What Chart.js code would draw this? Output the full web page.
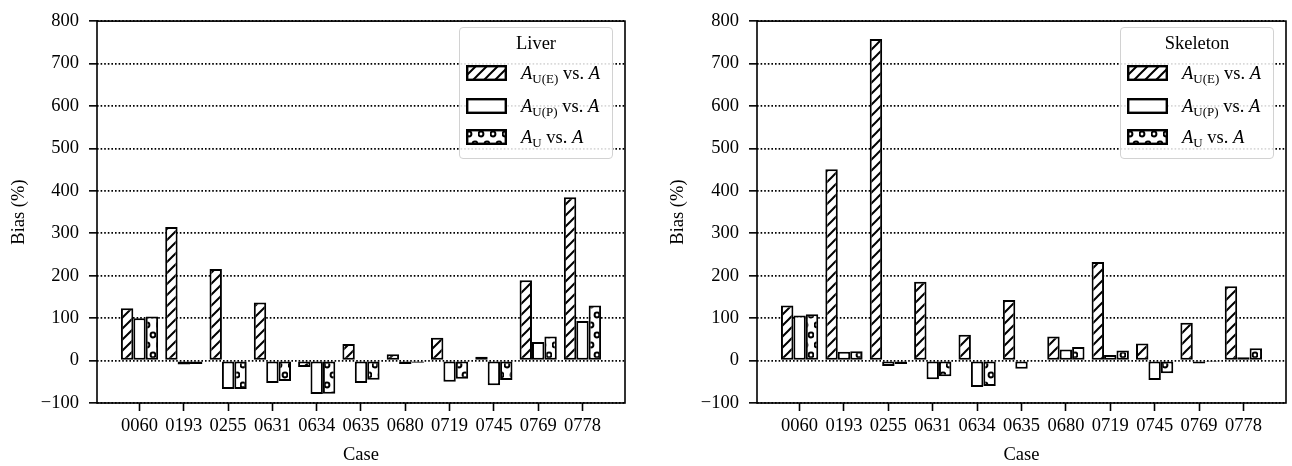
<!DOCTYPE html>
<html>
<head>
<meta charset="utf-8">
<script src="https://cdn.jsdelivr.net/npm/chart.js@4.4.1/dist/chart.umd.min.js"></script>
<style>
  body { margin: 0; background: #fff; }
  #wrap { position: relative; width: 1292px; height: 466px; overflow: hidden; }
  #wrap > canvas { position: absolute; top: 0; }
  .legend {
    position: absolute; top: 27px; height: 132px; box-sizing: border-box;
    border: 1px solid #d2d2d2; border-radius: 4px; background: rgba(255,255,255,0.85);
    font-family: "Liberation Serif", "Times New Roman", serif; font-size: 18.5px; color: #000;
  }
  .legend .ttl { position: absolute; left: 0; right: 0; top: 3px; line-height: 24px; text-align: center; }
  .legend .sw { position: absolute; left: 6px; width: 41px; height: 16px; }
  .legend .lab { position: absolute; left: 61px; line-height: 24px; white-space: nowrap; }
  .legend sub { font-size: 13px; vertical-align: -4px; line-height: 0; }
</style>
</head>
<body>
<div id="wrap">
  <canvas id="liver" width="646" height="466" style="left:0"></canvas>
  <canvas id="skeleton" width="646" height="466" style="left:646px"></canvas>

  <div class="legend" style="left:459px;width:154px">
    <div class="ttl">Liver</div>
    <canvas class="sw" data-p="hatch" width="41" height="16" style="top:37px"></canvas>
    <div class="lab" style="top:33px"><i>A</i><sub>U(E)</sub> vs. <i>A</i></div>
    <canvas class="sw" data-p="plain" width="41" height="16" style="top:70px"></canvas>
    <div class="lab" style="top:66px"><i>A</i><sub>U(P)</sub> vs. <i>A</i></div>
    <canvas class="sw" data-p="dots" width="41" height="16" style="top:101px"></canvas>
    <div class="lab" style="top:97px"><i>A</i><sub>U</sub> vs. <i>A</i></div>
  </div>

  <div class="legend" style="left:1120px;width:154px">
    <div class="ttl">Skeleton</div>
    <canvas class="sw" data-p="hatch" width="41" height="16" style="top:37px"></canvas>
    <div class="lab" style="top:33px"><i>A</i><sub>U(E)</sub> vs. <i>A</i></div>
    <canvas class="sw" data-p="plain" width="41" height="16" style="top:70px"></canvas>
    <div class="lab" style="top:66px"><i>A</i><sub>U(P)</sub> vs. <i>A</i></div>
    <canvas class="sw" data-p="dots" width="41" height="16" style="top:101px"></canvas>
    <div class="lab" style="top:97px"><i>A</i><sub>U</sub> vs. <i>A</i></div>
  </div>
</div>

<script>
const cases = ['0060', '0193', '0255', '0631', '0634', '0635', '0680', '0719', '0745', '0769', '0778'];

// bias (%) per case
const liverUE = [123, 315, 216, 137, -15, 39, 15, 54, 9, 189, 385];
const liverUP = [100, -9, -67, -53, -79, -53, -8, -50, -58, 44, 93];
const liverU  = [104, -8, -67, -48, -78, -45, -5, -43, -46, 57, 130];

const skelUE = [130, 451, 758, 186, 61, 143, 57, 232, 40, 89, 175];
const skelUP = [106, 21, -13, -44, -62, -19, 26, 13, -46, -7, 8];
const skelU  = [109, 22, -8, -37, -60, -2, 32, 24, -30, -1, 29];

const yMin = -100, yMax = 800, yStep = 100;

Chart.defaults.font.family = '"Liberation Serif", "Times New Roman", serif';
Chart.defaults.font.size = 18.5;
Chart.defaults.color = '#000';

function hatchTile() {
  const c = document.createElement('canvas');
  c.width = 11; c.height = 11;
  const g = c.getContext('2d');
  g.fillStyle = '#fff'; g.fillRect(0, 0, 11, 11);
  g.strokeStyle = '#000'; g.lineWidth = 2;
  g.beginPath();
  g.moveTo(0, 11); g.lineTo(11, 0);
  g.moveTo(-2, 2); g.lineTo(2, -2);
  g.moveTo(9, 13); g.lineTo(13, 9);
  g.stroke();
  return c;
}

function dotTile() {
  const c = document.createElement('canvas');
  c.width = 12; c.height = 20;
  const g = c.getContext('2d');
  g.fillStyle = '#fff'; g.fillRect(0, 0, 12, 20);
  g.strokeStyle = '#000'; g.lineWidth = 2;
  [[3, 5], [9, 15]].forEach(([x, y]) => {
    g.beginPath(); g.arc(x, y, 2.4, 0, Math.PI * 2); g.stroke();
  });
  return c;
}

const tiles = { hatch: hatchTile(), dots: dotTile() };

function fillFor(ctx, name) {
  if (name === 'plain') return '#fff';
  return ctx.createPattern(tiles[name], 'repeat');
}

document.querySelectorAll('.sw').forEach(sw => {
  const g = sw.getContext('2d');
  g.fillStyle = fillFor(g, sw.dataset.p);
  g.fillRect(0, 0, sw.width, sw.height);
  g.strokeStyle = '#000'; g.lineWidth = 2.4;
  g.strokeRect(1.2, 1.2, sw.width - 2.4, sw.height - 2.4);
});

const frame = {
  id: 'frame',
  afterDatasetsDraw(chart) {
    const { ctx, chartArea: a } = chart;
    ctx.save();
    ctx.strokeStyle = '#000';
    ctx.lineWidth = 1.6;
    ctx.strokeRect(a.left, a.top, a.right - a.left, a.bottom - a.top);
    ctx.restore();
  }
};

const toXY = arr => arr.map((v, i) => ({ x: i, y: v }));

function makeChart(id, ue, up, u, padRight, yWidth, titlePad) {
  const ctx = document.getElementById(id).getContext('2d');
  const bar = (data, fill) => ({
    data: toXY(data),
    backgroundColor: fill,
    borderColor: '#000',
    borderWidth: 2,
    borderSkipped: false
  });
  return new Chart(ctx, {
    type: 'bar',
    data: {
      datasets: [
        bar(ue, fillFor(ctx, 'hatch')),
        bar(up, fillFor(ctx, 'plain')),
        bar(u, fillFor(ctx, 'dots'))
      ]
    },
    options: {
      responsive: false,
      animation: false,
      devicePixelRatio: 1,
      layout: { padding: { top: 17, right: padRight, bottom: 0, left: 0 } },
      datasets: { bar: { categoryPercentage: 0.84, barPercentage: 1 } },
      plugins: { legend: { display: false }, tooltip: { enabled: false } },
      scales: {
        x: {
          type: 'linear', min: -0.96, max: 10.96, offset: false,
          afterBuildTicks: s => { s.ticks = cases.map((c, i) => ({ value: i })); },
          afterFit: s => { s.height = 63; },
          ticks: { autoSkip: false, maxRotation: 0, padding: 4, callback: v => cases[v] },
          grid: { drawOnChartArea: false, offset: false, tickLength: 8, tickWidth: 1.6, tickColor: '#000' },
          border: { display: false },
          title: { display: true, text: 'Case', padding: { top: 0, bottom: 0 } }
        },
        y: {
          min: yMin, max: yMax,
          afterFit: s => { s.width = yWidth; },
          ticks: { stepSize: yStep, padding: 10, callback: v => String(v).replace('-', '\u2212') },
          grid: { color: '#000', lineWidth: 1.7, tickLength: 8, tickWidth: 1.6, tickColor: '#000' },
          border: { display: false, dash: [1.6, 2] },
          title: { display: true, text: 'Bias (%)', padding: { top: titlePad, bottom: 0 } }
        }
      }
    },
    plugins: [frame]
  });
}

makeChart('liver', liverUE, liverUP, liverU, 21, 97, 8);
makeChart('skeleton', skelUE, skelUP, skelU, 6, 111, 21);
</script>
</body>
</html>
